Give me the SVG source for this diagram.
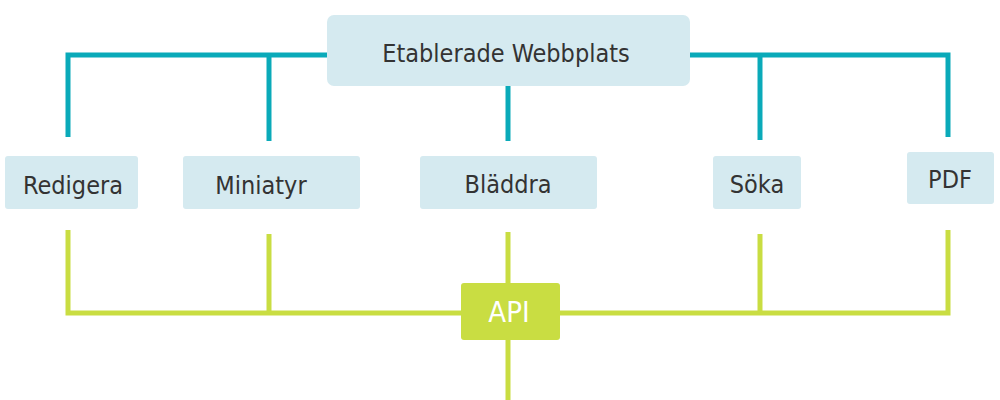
<svg xmlns="http://www.w3.org/2000/svg" width="1000" height="400" viewBox="0 0 1000 400">
<style>
.box{fill:#d5eaf0}
.lbl{font-family:"DejaVu Sans Condensed","DejaVu Sans",sans-serif;font-size:25px;fill:#333;text-anchor:middle}
.teal{stroke:#0aaab9;stroke-width:5;fill:none}
.green{stroke:#c9dd42;stroke-width:5;fill:none}
</style>
<g id="connectors">
<polyline class="teal" points="68,137 68,55 327,55"/>
<line class="teal" x1="269" y1="55" x2="269" y2="141"/>
<line class="teal" x1="508" y1="86" x2="508" y2="141"/>
<polyline class="teal" points="690,55 948,55 948,137"/>
<line class="teal" x1="760" y1="55" x2="760" y2="140"/>
<polyline class="green" points="68,230 68,313 461,313"/>
<line class="green" x1="269" y1="234" x2="269" y2="313"/>
<line class="green" x1="508" y1="232" x2="508" y2="400"/>
<polyline class="green" points="560,313 948,313 948,230"/>
<line class="green" x1="760" y1="234" x2="760" y2="313"/>
</g>
<g id="webbplats">
<rect class="box" x="327" y="15" width="363" height="71" rx="7"/>
<text class="lbl" x="506" y="62">Etablerade Webbplats</text>
</g>
<g id="redigera">
<rect class="box" x="5" y="156" width="133" height="53" rx="3"/>
<text class="lbl" x="73" y="194">Redigera</text>
</g>
<g id="miniatyr">
<rect class="box" x="183" y="156" width="177" height="53" rx="3"/>
<text class="lbl" x="261" y="194">Miniatyr</text>
</g>
<g id="bladdra">
<rect class="box" x="420" y="156" width="177" height="53" rx="3"/>
<text class="lbl" x="508" y="193">Bläddra</text>
</g>
<g id="soka">
<rect class="box" x="713" y="156" width="88" height="53" rx="3"/>
<text class="lbl" x="757" y="193">Söka</text>
</g>
<g id="pdf">
<rect class="box" x="907" y="152" width="87" height="52" rx="3"/>
<text class="lbl" x="950" y="188">PDF</text>
</g>
<g id="api">
<rect x="461" y="283" width="99" height="57" rx="3" fill="#c9dd42"/>
<text class="lbl" x="509" y="322" style="fill:#fff;font-size:29px">API</text>
</g>
</svg>
